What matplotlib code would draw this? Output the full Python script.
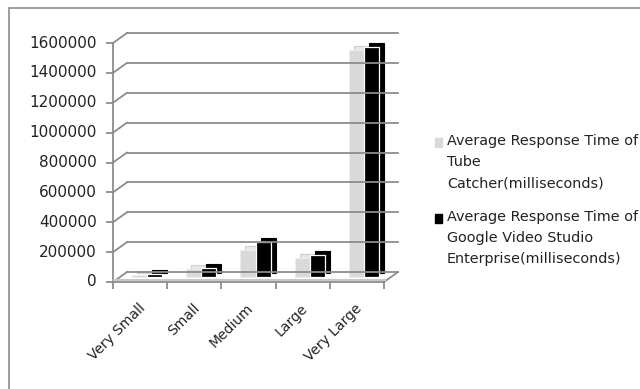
import matplotlib
matplotlib.use("Agg")
import matplotlib.pyplot as plt
from matplotlib.transforms import ScaledTranslation
from matplotlib.patches import ConnectionPatch, Rectangle

# dados
categorias = ["Very Small", "Small", "Medium", "Large", "Very Large"]
tube_catcher = [15000, 55000, 180000, 125000, 1520000]
google_vse = [22000, 62000, 235000, 150000, 1540000]
y_ticks = [0, 200000, 400000, 600000, 800000, 1000000, 1200000, 1400000, 1600000]
legenda = ["Average Response Time of\nTube\nCatcher(milliseconds)",
           "Average Response Time of\nGoogle Video Studio\nEnterprise(milliseconds)"]

GRID = "#8c8c8c"
CLARO = "#d9d9d9"
W, H = 640, 389

fig = plt.figure(figsize=(6.4, 3.89), dpi=100)
# eixo = parede do fundo do "3d" do excel
ax = fig.add_axes([127 / W, 117 / H, 271 / W, 239 / H])
ax.set_xlim(-0.5, len(categorias) - 0.5)
ax.set_ylim(0, y_ticks[-1])
ax.axis("off")


def desloca(dx, dy):
    # desloca em pixels a partir da parede do fundo
    return ax.transData + ScaledTranslation(dx / 100, dy / 100, fig.dpi_scale_trans)


frente = desloca(-14, -10)
x0, x1 = ax.get_xlim()

# linhas de grade no fundo + diagonais ate o eixo da frente
for v in y_ticks:
    ax.plot([x0, x1], [v, v], color=GRID, lw=1.3, clip_on=False)
    ax.add_artist(ConnectionPatch((x0, v), (x0, v), coordsA=frente, coordsB=ax.transData,
                                  color=GRID, lw=1.3))
    ax.text(x0, v, str(v), transform=desloca(-30, -10), ha="right", va="center",
            fontsize=11, color="#222222")

# eixo vertical da frente com tracinhos
ax.plot([x0, x0], [0, y_ticks[-1]], color=GRID, lw=1.3, transform=frente, clip_on=False)
ax.plot([x0] * len(y_ticks), y_ticks, ls="none", marker=0, ms=5, mew=1.3, color=GRID,
        transform=frente, clip_on=False)

# piso
ax.plot([x0, x1], [0, 0], color=GRID, lw=1.3, transform=frente, clip_on=False)
ax.plot([x0, x1], [0, 0], color="#c8c8c8", lw=1.5, transform=desloca(-13, -8), clip_on=False)
ax.add_artist(ConnectionPatch((x1, 0), (x1, 0), coordsA=frente, coordsB=ax.transData,
                              color=GRID, lw=1.3))
limites = [i - 0.5 for i in range(len(categorias) + 1)]
ax.plot(limites, [0] * len(limites), ls="none", marker=3, ms=5, mew=1.3, color=GRID,
        transform=frente, clip_on=False)

# barras com cara de 3d
larg = 0.28
pos = range(len(categorias))
xa = [p - larg / 2 for p in pos]
xb = [p + larg / 2 for p in pos]
ax.bar(xa, tube_catcher, larg, color="#e8e8e8", edgecolor="#cfcfcf", lw=0.8,
       transform=desloca(-2, -1), clip_on=False)
ax.bar(xa, tube_catcher, larg, color=CLARO, edgecolor="#eeeeee", lw=0.6,
       transform=desloca(-7, -5), clip_on=False)
ax.bar(xb, google_vse, larg, color="black", edgecolor="black", lw=0.8,
       transform=desloca(-2, -1), clip_on=False)
ax.bar(xb, google_vse, larg, color="black", edgecolor="white", lw=0.9,
       transform=desloca(-7, -5), clip_on=False)

# rotulos das categorias
for i, c in enumerate(categorias):
    ax.text(i, 0, c, transform=desloca(-16, -29), ha="right", va="top", rotation=45,
            rotation_mode="anchor", fontsize=10, color="#222222")

# legenda feita na mao
cores = [CLARO, "black"]
y_leg = [142, 218]
for lab, cor, yl in zip(legenda, cores, y_leg):
    fig.add_artist(Rectangle((435 / W, 1 - (yl + 4.5) / H), 7 / W, 9 / H, color=cor,
                             transform=fig.transFigure))
    fig.text(447 / W, 1 - (yl - 8) / H, lab, ha="left", va="top", fontsize=10.4,
             linespacing=1.65, color="#222222")

# moldura da area do grafico
fig.add_artist(Rectangle((9 / W, -0.1), 1.2, 1 - 8 / H + 0.1, fill=False, edgecolor="#8c8c8c",
                         lw=1.2, transform=fig.transFigure, clip_on=False))

fig.savefig("out.png", dpi=100)
